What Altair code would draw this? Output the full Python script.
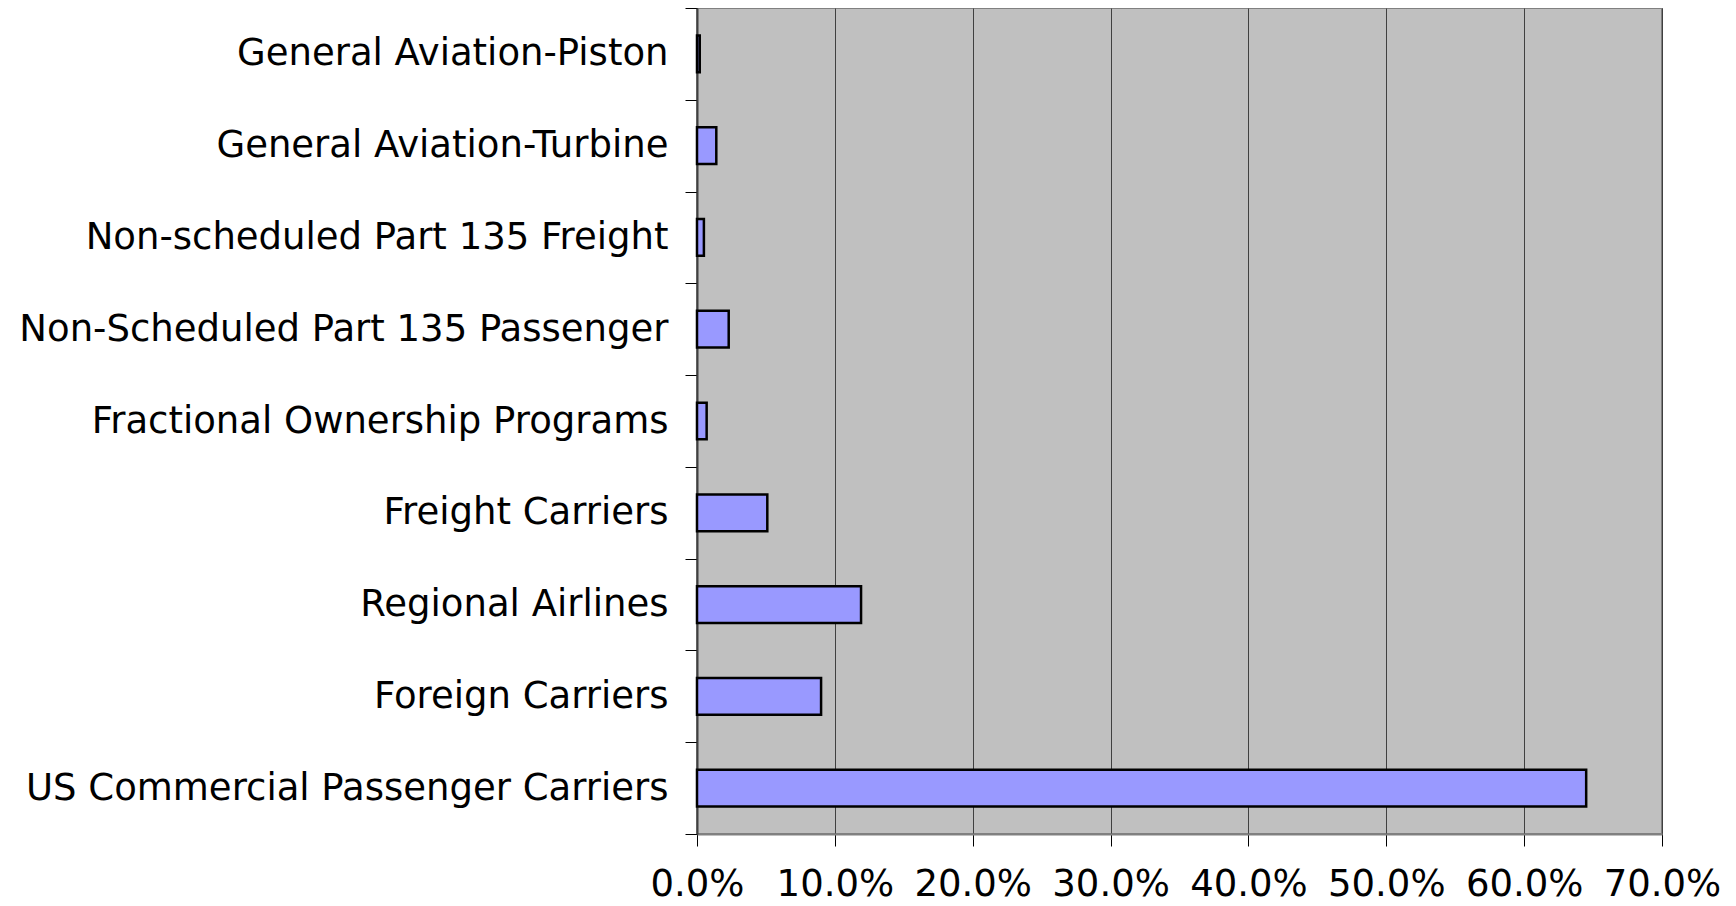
import altair as alt
import pandas as pd

categories = [
    "General Aviation-Piston",
    "General Aviation-Turbine",
    "Non-scheduled Part 135 Freight",
    "Non-Scheduled Part 135 Passenger",
    "Fractional Ownership Programs",
    "Freight Carriers",
    "Regional Airlines",
    "Foreign Carriers",
    "US Commercial Passenger Carriers",
]
shares = [0.002, 0.014, 0.005, 0.023, 0.007, 0.051, 0.119, 0.090, 0.645]
x_ticks = [0.0, 0.1, 0.2, 0.3, 0.4, 0.5, 0.6, 0.7]

df = pd.DataFrame({"category": categories, "share": shares})

FONT = "DejaVu Sans"

bars = alt.Chart(df).mark_bar(
    color="#9999FF", stroke="#000000", strokeWidth=2.5,
    height={"band": 0.4}
).encode(
    x=alt.X("share:Q",
            scale=alt.Scale(domain=[0, 0.7], nice=False),
            axis=alt.Axis(values=x_ticks, format=".1%", title=None,
                          grid=True, gridColor="#404040", gridWidth=1,
                          domainColor="#808080", domainWidth=2,
                          tickColor="#000000", tickSize=12, tickWidth=1,
                          labelFont=FONT, labelFontSize=37, labelColor="#000000",
                          labelPadding=20, labelFlush=False)),
    y=alt.Y("category:N", sort=categories,
            scale=alt.Scale(paddingInner=0, paddingOuter=0),
            axis=alt.Axis(title=None, tickBand="extent",
                          domainColor="#404040", domainWidth=2,
                          tickColor="#000000", tickSize=12, tickWidth=1,
                          labelFont=FONT, labelFontSize=37, labelColor="#000000",
                          labelPadding=17, labelLimit=700)),
)

chart = bars.properties(
    width=965, height=826,
    background="#FFFFFF",
    autosize=alt.AutoSizeParams(type="none"),
    padding={"left": 689, "top": 0, "right": 60, "bottom": 70},
).configure_view(
    fill="#C0C0C0", stroke="#808080", strokeWidth=2
)

chart.save("out.html", embed_options={"renderer": "svg", "actions": False})
